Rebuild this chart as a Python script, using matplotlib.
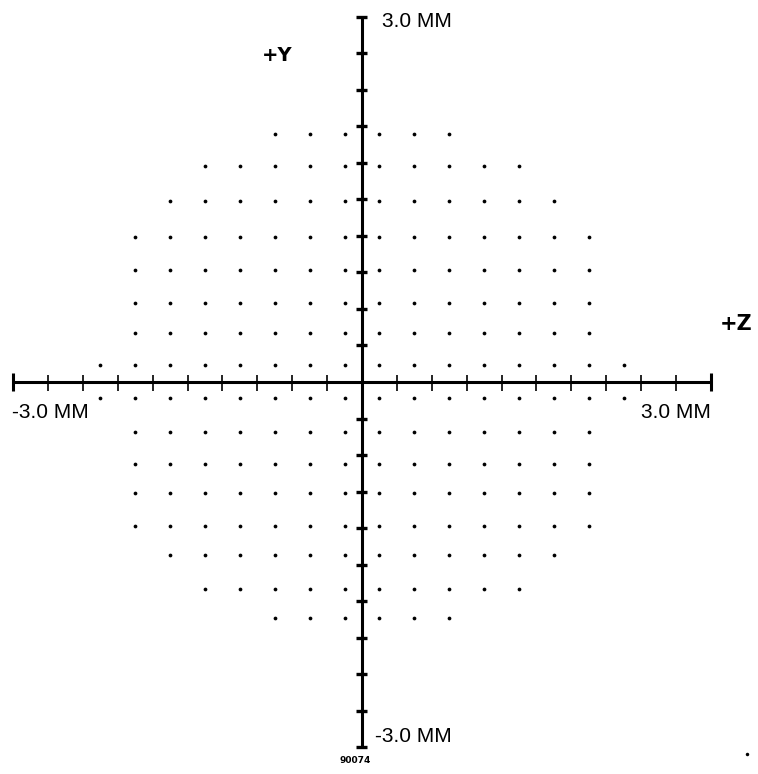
import numpy as np
import matplotlib
matplotlib.use('Agg')
from matplotlib import pyplot as plt

# scan grid, positions in mm
col_mm = [-2.25, -1.95, -1.65, -1.35, -1.05, -0.75, -0.45, -0.15,
          0.15, 0.45, 0.75, 1.05, 1.35, 1.65, 1.95, 2.25]
row_y_mm = [2.04, 1.77, 1.49, 1.19, 0.92, 0.65, 0.40, 0.14,
            -0.13, -0.41, -0.67, -0.91, -1.18, -1.42, -1.70, -1.94]
# half width of each row (outermost column used)
row_half_mm = [0.75, 1.35, 1.65, 1.95, 1.95, 1.95, 1.95, 2.25,
               2.25, 1.95, 1.95, 1.95, 1.95, 1.65, 1.35, 0.75]

# stray speck in the lower right corner
stray_x = [3.31]
stray_y = [-3.05]

tick_mm = [-3.0, -2.7, -2.4, -2.1, -1.8, -1.5, -1.2, -0.9, -0.6, -0.3, 0.0,
           0.3, 0.6, 0.9, 1.2, 1.5, 1.8, 2.1, 2.4, 2.7, 3.0]

fig = plt.figure(figsize=(7.58, 7.74), dpi=100)
ax = fig.add_axes([0, 0, 1, 1])
ax.set_xlim(-3.113, 3.405)
ax.set_ylim(-3.218, 3.136)
ax.axis('off')

# dots
xs, ys = [], []
for y, hw in zip(row_y_mm, row_half_mm):
    for x in col_mm:
        if abs(x) <= hw + 1e-6:
            xs.append(x)
            ys.append(y)
ax.plot(xs, ys, 'o', color='black', markersize=2.7, markeredgewidth=0)
ax.plot(stray_x, stray_y, 'o', color='black', markersize=2.5, markeredgewidth=0)

# axes lines
lw_axis = 2.2
ax.plot([-3.0, 3.0], [0, 0], color='black', lw=lw_axis, solid_capstyle='butt')
ax.plot([0, 0], [-3.0, 3.0], color='black', lw=lw_axis, solid_capstyle='butt')

# x ticks (vertical marks through the horizontal axis)
for t in tick_mm:
    if t == 0.0:
        continue
    if abs(t) == 3.0:
        ax.plot([t, t], [-0.075, 0.07], color='black', lw=2.2, solid_capstyle='butt')
    else:
        ax.plot([t, t], [-0.07, 0.055], color='black', lw=1.2, solid_capstyle='butt')

# y ticks (short horizontal bars through the vertical axis)
for t in tick_mm:
    if t == 0.0:
        continue
    ax.plot([-0.055, 0.045], [t, t], color='black', lw=2.4, solid_capstyle='butt')

lab = dict(family=['Liberation Sans', 'DejaVu Sans'], fontsize=15, color='black', va='center')
ax.text(0.17, 2.96, '3.0 MM', ha='left', **lab)
ax.text(-3.01, -0.25, '-3.0 MM', ha='left', **lab)
ax.text(3.0, -0.25, '3.0 MM', ha='right', **lab)
ax.text(0.11, -2.91, '-3.0 MM', ha='left', **lab)

big = dict(family='DejaVu Sans', fontweight='bold', color='black', va='center')
ax.text(-0.60, 2.68, '+Y', ha='right', fontsize=14, **big)
ax.text(3.36, 0.48, '+Z', ha='right', fontsize=15, **big)

ax.text(-0.19, -3.11, '90074', ha='left', va='center', family='DejaVu Sans',
        fontsize=6.5, fontweight='bold', color='black')

fig.savefig('out.png', dpi=100)
